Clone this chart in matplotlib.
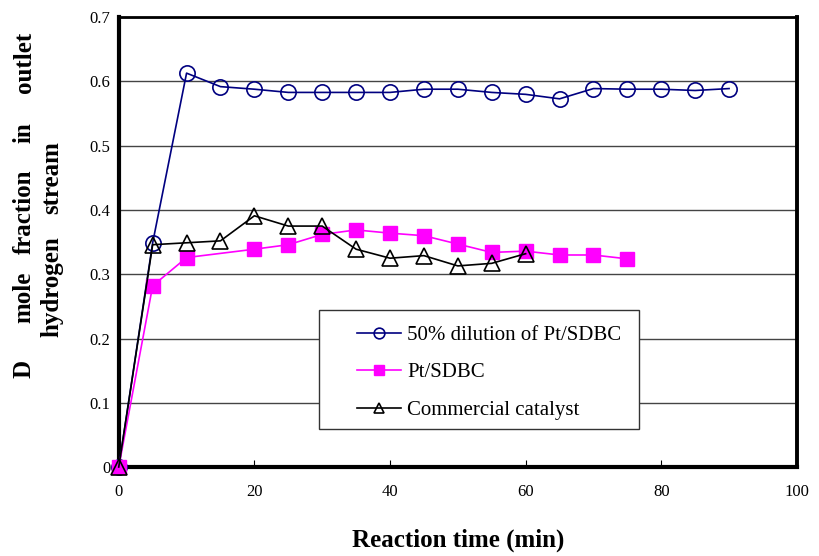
import matplotlib.pyplot as plt
from matplotlib.patches import Rectangle

# Data
time_dil = [0, 5, 10, 15, 20, 25, 30, 35, 40, 45, 50, 55, 60, 65, 70, 75, 80, 85, 90]
frac_dil = [0.0, 0.349, 0.613, 0.592, 0.588, 0.583, 0.583, 0.583, 0.583, 0.588,
            0.588, 0.583, 0.580, 0.573, 0.589, 0.588, 0.588, 0.586, 0.589]

time_pt = [0, 5, 10, 20, 25, 30, 35, 40, 45, 50, 55, 60, 65, 70, 75]
frac_pt = [0.0, 0.282, 0.326, 0.339, 0.346, 0.362, 0.369, 0.364, 0.360, 0.347,
           0.334, 0.336, 0.330, 0.330, 0.324]

time_com = [0, 5, 10, 15, 20, 25, 30, 35, 40, 45, 50, 55, 60]
frac_com = [0.0, 0.346, 0.349, 0.352, 0.391, 0.375, 0.375, 0.339, 0.325, 0.329,
            0.313, 0.317, 0.332]

x_ticks = [0, 20, 40, 60, 80, 100]
y_ticks = [0, 0.1, 0.2, 0.3, 0.4, 0.5, 0.6, 0.7]
y_tick_labels = ['0', '0.1', '0.2', '0.3', '0.4', '0.5', '0.6', '0.7']

plt.rcParams['font.family'] = ['Liberation Serif', 'DejaVu Serif']

fig = plt.figure(figsize=(8.19, 5.56), dpi=100)
ax = fig.add_axes([0.145, 0.160, 0.828, 0.809])

# horizontal grid lines
ax.set_axisbelow(True)
ax.yaxis.grid(True, color='#444444', linewidth=1.0)

ax.plot(time_dil, frac_dil, color='#000080', linewidth=1.2, marker='o', markersize=11,
        markerfacecolor='none', markeredgecolor='#000080', markeredgewidth=1.2,
        label='50% dilution of Pt/SDBC', zorder=3, clip_on=False)
ax.plot(time_pt, frac_pt, color='#ff00ff', linewidth=1.2, marker='s', markersize=10,
        markerfacecolor='#ff00ff', markeredgecolor='#ff00ff',
        label='Pt/SDBC', zorder=3, clip_on=False)
ax.plot(time_com, frac_com, color='black', linewidth=1.2, marker='^', markersize=11,
        markerfacecolor='none', markeredgecolor='black', markeredgewidth=1.2,
        label='Commercial catalyst', zorder=4, clip_on=False)

ax.set_xlim(0, 100)
ax.set_ylim(0, 0.7)
ax.set_xticks(x_ticks)
ax.set_yticks(y_ticks)
ax.set_yticklabels(y_tick_labels)
ax.tick_params(axis='x', direction='in', length=5, labelsize=12, pad=12)
ax.tick_params(axis='y', length=0, labelsize=12, pad=6)

ax.spines['left'].set_linewidth(3)
ax.spines['bottom'].set_linewidth(3)
ax.spines['right'].set_linewidth(2.8)
ax.spines['top'].set_linewidth(2)

# legend box, then the entries inside it
ax.add_patch(Rectangle((0.295, 0.084), 0.472, 0.265, transform=ax.transAxes,
                       facecolor='white', edgecolor='#333333', linewidth=1.0, zorder=5))
leg = ax.legend(loc='upper left', bbox_to_anchor=(0.352, 0.315), fontsize=15,
                frameon=False, markerscale=0.7, handlelength=2.1, handletextpad=0.3,
                labelspacing=0.86, borderpad=0, borderaxespad=0)
leg.set_zorder(6)

ax.set_xlabel('Reaction time (min)', fontsize=18, fontweight='bold', labelpad=21)

# y label: two lines of widely spaced words
line1 = [('outlet', 62), ('in', 133), ('fraction', 212), ('mole', 297), ('D', 369)]
line2 = [('stream', 178), ('hydrogen', 287)]
for word, ypix in line1:
    fig.text(24 / 819, 1 - ypix / 556, word, rotation=90, ha='center', va='center',
             fontsize=18, fontweight='bold')
for word, ypix in line2:
    fig.text(52 / 819, 1 - ypix / 556, word, rotation=90, ha='center', va='center',
             fontsize=18, fontweight='bold')

plt.savefig('out.png')
